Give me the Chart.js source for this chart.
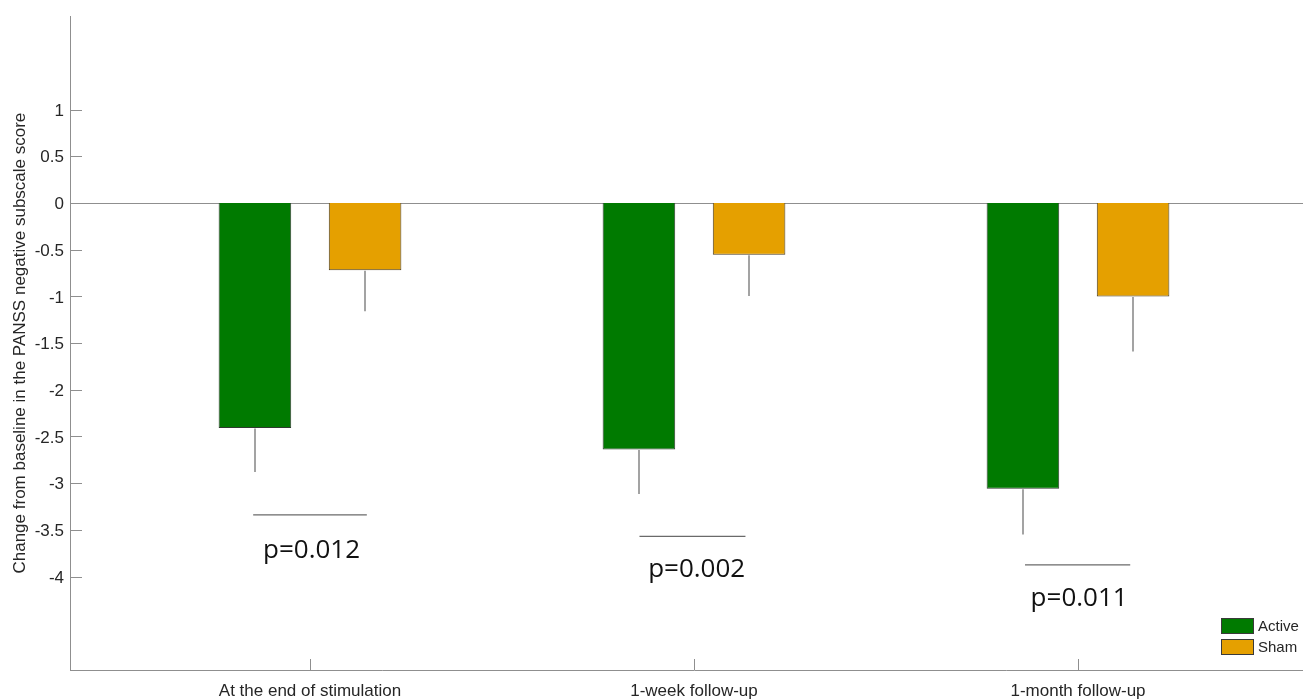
<!DOCTYPE html>
<html>
<head>
<meta charset="utf-8">
<script src="https://cdn.jsdelivr.net/npm/chart.js@4.4.1/dist/chart.umd.min.js"></script>
<style>
  html, body { margin: 0; padding: 0; background: #fff; overflow: hidden; width: 1303px; height: 700px; }
  #wrap { position: relative; width: 1318px; height: 700px; }
</style>
</head>
<body>
<div id="wrap"><canvas id="c"></canvas></div>
<script>
// Time points and group means (change from baseline, PANSS negative subscale)
const categories = ['At the end of stimulation', '1-week follow-up', '1-month follow-up'];
const categoryPos = [1, 2, 3];
const activeMeans = [-2.41, -2.64, -3.06];
const activeErr = [0.47, 0.475, 0.49];
const shamMeans = [-0.72, -0.555, -1.0];
const shamErr = [0.44, 0.44, 0.59];

// Between-group comparisons
const pLabels = ['p=0.012', 'p=0.002', 'p=0.011'];
const pLineY = [-3.34, -3.57, -3.875];
const pLineFrom = [0.852, 1.858, 2.862];
const pLineTo = [1.148, 2.134, 3.136];
const pTextX = [1.004, 2.007, 3.003];
const pTextY = [-3.80, -4.005, -4.31];

// Axis
const yTickValues = [1, 0.5, 0, -0.5, -1, -1.5, -2, -2.5, -3, -3.5, -4];
const yMin = -5, yMax = 2;
const xMin = 0.375, xMax = 3.625;

const AXIS = '#8f8f8f';
const TEXT = '#262626';
const GREEN = 'rgb(0,122,0)';
const ORANGE = 'rgb(229,160,0)';

const toPoints = (vals) => vals.map((v, i) => ({ x: categoryPos[i], y: v }));

const pLineSets = pLineY.map((y, i) => ({
  type: 'line',
  label: 'cmp' + i,
  data: [{ x: pLineFrom[i], y: y }, { x: pLineTo[i], y: y }],
  borderColor: '#6a6a6a',
  borderWidth: 1.3,
  pointRadius: 0,
  fill: false
}));

// Error bars (downward only) drawn from each bar's end
const errorBars = {
  id: 'errorBars',
  afterDatasetsDraw(chart) {
    const ctx = chart.ctx;
    const ys = chart.scales.y;
    ctx.save();
    ctx.strokeStyle = '#a3a3a3';
    ctx.lineWidth = 2;
    chart.data.datasets.forEach((ds, di) => {
      if (!ds.errors) return;
      const meta = chart.getDatasetMeta(di);
      meta.data.forEach((el, i) => {
        const v = ds.data[i].y;
        const yEnd = ys.getPixelForValue(v - ds.errors[i]);
        const px = Math.round(el.x);
        ctx.beginPath();
        ctx.moveTo(px, el.y + 0.5);
        ctx.lineTo(px, yEnd);
        ctx.stroke();
      });
    });
    ctx.restore();
  }
};

// Zero line, inward tick marks, p-value labels and legend
const decorations = {
  id: 'decorations',
  beforeDatasetsDraw(chart) {
    const { ctx, chartArea: a, scales: { y } } = chart;
    const y0 = Math.round(y.getPixelForValue(0)) + 0.5;
    ctx.save();
    ctx.strokeStyle = AXIS;
    ctx.lineWidth = 1.2;
    ctx.beginPath();
    ctx.moveTo(a.left, y0);
    ctx.lineTo(a.right, y0);
    ctx.stroke();
    ctx.restore();
  },
  afterDraw(chart) {
    const { ctx, chartArea: a, scales: { x, y } } = chart;
    ctx.save();
    ctx.strokeStyle = AXIS;
    ctx.lineWidth = 1;
    yTickValues.forEach(v => {
      const py = Math.round(y.getPixelForValue(v)) + 0.5;
      ctx.beginPath();
      ctx.moveTo(a.left, py);
      ctx.lineTo(a.left + 12, py);
      ctx.stroke();
    });
    categoryPos.forEach(v => {
      const px = Math.round(x.getPixelForValue(v)) + 0.5;
      ctx.beginPath();
      ctx.moveTo(px, a.bottom);
      ctx.lineTo(px, a.bottom - 11);
      ctx.stroke();
    });

    // p-values
    ctx.fillStyle = '#111';
    ctx.font = '26px "Open Sans", "Noto Sans", sans-serif';
    ctx.textAlign = 'center';
    ctx.textBaseline = 'alphabetic';
    pLabels.forEach((t, i) => {
      ctx.fillText(t, x.getPixelForValue(pTextX[i]), y.getPixelForValue(pTextY[i]));
    });

    // legend
    const bars = chart.data.datasets.filter(d => d.type === 'bar');
    const lx = a.right - 97, ly0 = a.bottom - 52;
    ctx.font = '15px "Liberation Sans", Arial, sans-serif';
    ctx.textAlign = 'left';
    ctx.textBaseline = 'middle';
    bars.forEach((d, i) => {
      const ly = ly0 + i * 21;
      ctx.fillStyle = d.backgroundColor;
      ctx.fillRect(lx, ly, 33, 16);
      ctx.strokeStyle = '#3a3a3a';
      ctx.lineWidth = 1;
      ctx.strokeRect(lx + 0.5, ly + 0.5, 32, 15);
      ctx.fillStyle = TEXT;
      ctx.fillText(d.label, lx + 37, ly + 8.5);
    });
    ctx.restore();
  }
};

new Chart(document.getElementById('c'), {
  type: 'bar',
  data: {
    datasets: [
      {
        type: 'bar',
        label: 'Active',
        data: toPoints(activeMeans),
        errors: activeErr,
        backgroundColor: GREEN,
        borderColor: '#2f3a2f',
        borderWidth: 1,
        categoryPercentage: 0.5737,
        barPercentage: 0.659
      },
      {
        type: 'bar',
        label: 'Sham',
        data: toPoints(shamMeans),
        errors: shamErr,
        backgroundColor: ORANGE,
        borderColor: '#4a3c20',
        borderWidth: 1,
        categoryPercentage: 0.5737,
        barPercentage: 0.659
      },
      ...pLineSets
    ]
  },
  options: {
    responsive: true,
    maintainAspectRatio: false,
    animation: false,
    devicePixelRatio: 1,
    layout: { padding: { top: 16, left: 0, right: 0, bottom: 0 } },
    plugins: {
      legend: { display: false },
      tooltip: { enabled: false }
    },
    scales: {
      x: {
        type: 'linear',
        min: xMin,
        max: xMax,
        offset: false,
        grid: { display: false, drawTicks: false, offset: false },
        border: { display: true, color: AXIS, width: 1 },
        afterBuildTicks(s) { s.ticks = categoryPos.map(v => ({ value: v })); },
        afterFit(s) { s.height = 30; },
        ticks: {
          autoSkip: false,
          maxRotation: 0,
          padding: 11,
          color: TEXT,
          font: { family: '"Liberation Sans", Arial, sans-serif', size: 17 },
          callback: (v) => categories[categoryPos.indexOf(v)] ?? ''
        }
      },
      y: {
        type: 'linear',
        min: yMin,
        max: yMax,
        grid: { display: false, drawTicks: false },
        border: { display: true, color: AXIS, width: 1 },
        afterBuildTicks(s) { s.ticks = yTickValues.map(v => ({ value: v })); },
        afterFit(s) { s.width = 70; },
        ticks: {
          autoSkip: false,
          padding: 6,
          labelOffset: 1.5,
          color: TEXT,
          font: { family: '"Liberation Sans", Arial, sans-serif', size: 17 },
          callback: (v) => String(v)
        },
        title: {
          display: true,
          text: 'Change from baseline in the PANSS negative subscale score',
          color: TEXT,
          font: { family: '"Liberation Sans", Arial, sans-serif', size: 17 },
          padding: { top: 10, bottom: 0 }
        }
      }
    }
  },
  plugins: [errorBars, decorations]
});
</script>
</body>
</html>
